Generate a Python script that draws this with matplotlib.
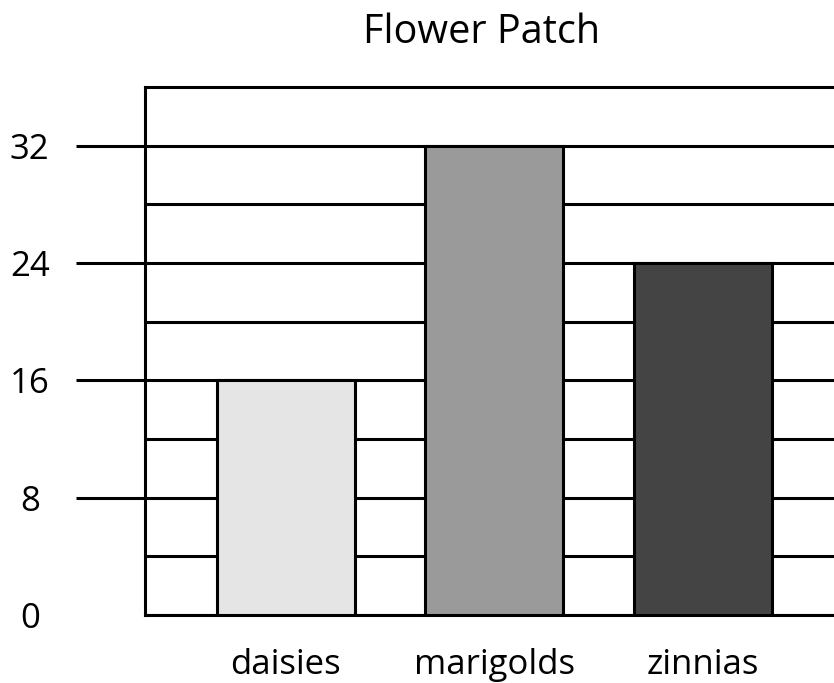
import numpy as np
import matplotlib.pyplot as plt

# chart data
flowers = ["daisies", "marigolds", "zinnias"]
counts = [16, 32, 24]
bar_colors = ["#e5e5e5", "#9a9a9a", "#444444"]
major_ticks = [0, 8, 16, 24, 32]
minor_ticks = [4, 12, 20, 28]

plt.rcParams['font.family'] = ['Open Sans', 'DejaVu Sans']

fig = plt.figure(figsize=(8.34, 6.83), dpi=100)
ax = fig.add_axes([145 / 834, 68 / 683, 1 - 145 / 834, 528 / 683])

x = np.arange(len(flowers))
ax.bar(x, counts, width=0.662, color=bar_colors, edgecolor="black", linewidth=2.2, zorder=3)

ax.set_xlim(-0.676, 2.63)
ax.set_ylim(0, 36)

ax.set_yticks(major_ticks)
ax.set_yticks(minor_ticks, minor=True)
ax.yaxis.grid(True, which="both", color="black", linewidth=2.2, zorder=0)
ax.set_axisbelow(True)

ax.tick_params(axis="y", which="major", length=50, width=2.2, color="black",
               labelsize=25, pad=33)
ax.tick_params(axis="y", which="minor", length=0)
for lab in ax.get_yticklabels():
    lab.set_horizontalalignment("center")
ax.yaxis.get_major_ticks()[0].tick1line.set_visible(False)

ax.set_xticks(x)
ax.set_xticklabels(flowers)
ax.tick_params(axis="x", length=0, labelsize=25, pad=24)

for side in ["left", "bottom", "top"]:
    ax.spines[side].set_linewidth(2.2)
    ax.spines[side].set_color("black")
ax.spines["right"].set_visible(False)

fig.text(482 / 834, 1 - 33 / 683, "Flower Patch", ha="center", va="center", fontsize=28.5)

fig.savefig("out.png", dpi=100)
